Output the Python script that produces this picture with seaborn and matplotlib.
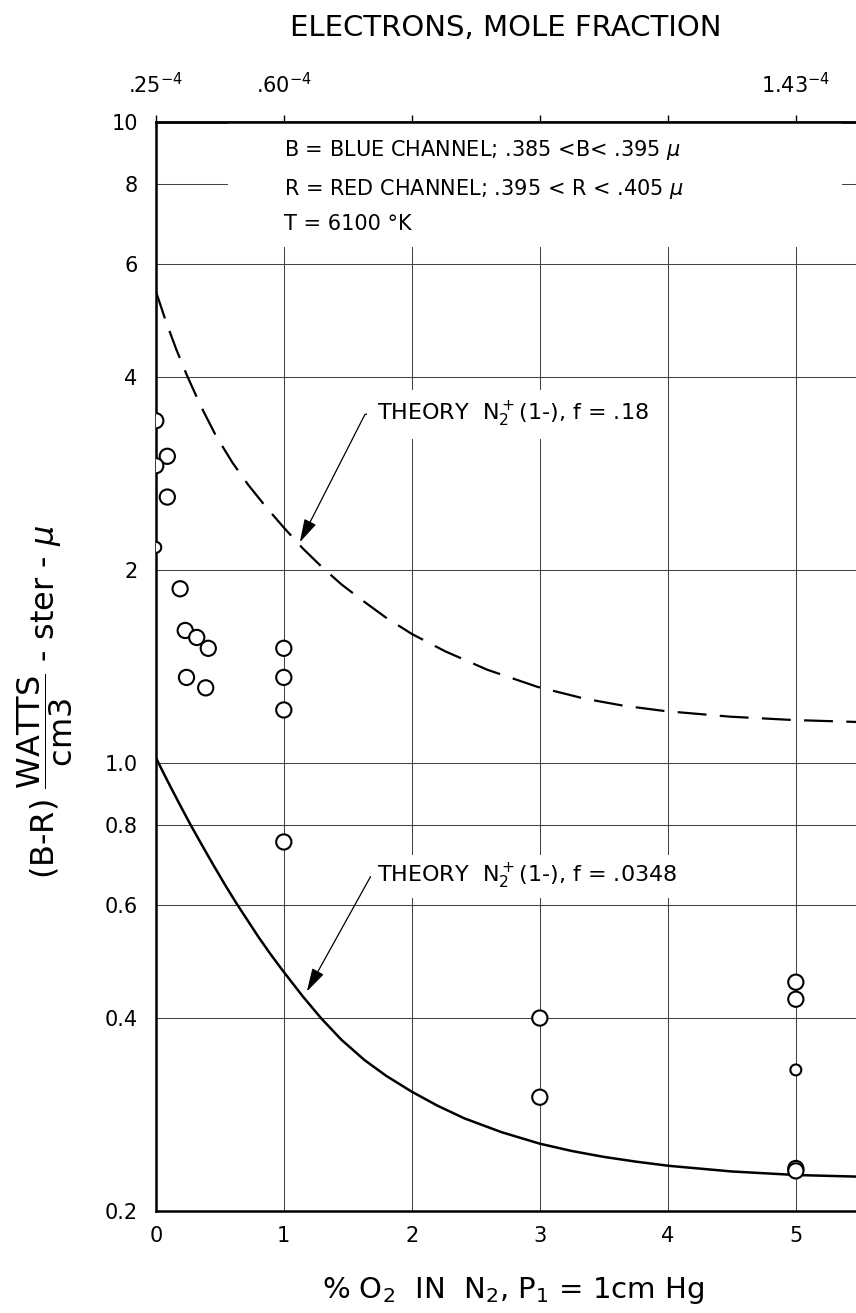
import matplotlib
matplotlib.use("Agg")
import matplotlib.pyplot as plt
from matplotlib.patches import Rectangle
import pandas as pd
import seaborn as sns

# measured (B-R) radiance vs % O2
o2_pct = [0, 0.09, 0, 0.09, 0, 0.19, 0.23, 0.32, 0.41, 0.24, 0.39,
          1, 1, 1, 1, 3, 3, 5, 5, 5, 5, 5]
b_minus_r = [3.42, 3.01, 2.91, 2.60, 2.17, 1.87, 1.61, 1.57, 1.51, 1.36, 1.31,
             1.51, 1.36, 1.21, 0.753, 0.40, 0.301, 0.455, 0.428, 0.332, 0.233, 0.231]
marker_kind = ["big", "big", "big", "big", "small", "big", "big", "big", "big", "big", "big",
               "big", "big", "big", "big", "big", "big", "big", "big", "small", "big", "big"]

# theory curves
theory_18_x = [0, 0.08, 0.16, 0.24, 0.35, 0.47, 0.6, 0.72, 0.86, 1.0, 1.15, 1.3, 1.45, 1.62,
               1.8, 2.0, 2.26, 2.59, 2.98, 3.35, 3.65, 3.98, 4.49, 4.98, 5.47]
theory_18_y = [5.45, 4.88, 4.42, 4.04, 3.61, 3.24, 2.94, 2.72, 2.51, 2.33, 2.16, 2.02, 1.90, 1.79,
               1.685, 1.59, 1.494, 1.398, 1.315, 1.26, 1.229, 1.205, 1.181, 1.167, 1.159]
theory_0348_x = [0, 0.06, 0.12, 0.2, 0.27, 0.36, 0.45, 0.54, 0.63, 0.72, 0.8, 0.9, 1.0, 1.15,
                 1.29, 1.45, 1.63, 1.8, 2.0, 2.2, 2.41, 2.7, 3.0, 3.25, 3.5, 3.75, 4.01, 4.5,
                 5.0, 5.47]
theory_0348_y = [1.02, 0.965, 0.914, 0.852, 0.802, 0.745, 0.693, 0.646, 0.604, 0.567, 0.536, 0.502,
                 0.472, 0.432, 0.400, 0.370, 0.344, 0.325, 0.307, 0.292, 0.279, 0.2655, 0.2547,
                 0.2481, 0.2429, 0.2388, 0.2352, 0.2305, 0.2276, 0.2263]

y_ticks = [0.2, 0.4, 0.6, 0.8, 1.0, 2, 4, 6, 8, 10]
y_tick_labels = ["0.2", "0.4", "0.6", "0.8", "1.0", "2", "4", "6", "8", "10"]
x_ticks = [0, 1, 2, 3, 4, 5]
x_tick_labels = ["0", "1", "2", "3", "4", "5"]
top_tick_labels = [".25$^{-4}$", ".60$^{-4}$", "", "", "", "1.43$^{-4}$"]

points = pd.DataFrame({"o2": o2_pct, "br": b_minus_r, "kind": marker_kind})

sns.set_style("white")
plt.rcParams["font.family"] = ["DejaVu Sans"]
plt.rcParams["mathtext.fontset"] = "dejavusans"
for key in ["text.color", "axes.labelcolor", "xtick.color", "ytick.color"]:
    plt.rcParams[key] = "black"

fig = plt.figure(figsize=(8.56, 13.13), dpi=100)
ax = fig.add_axes([0.182, 0.0777, 0.818, 0.8293])
ax.set_yscale("log")

ax.grid(True, which="major", color="#444444", lw=0.75)
ax.set_axisbelow(True)

sns.lineplot(x=theory_18_x, y=theory_18_y, ax=ax, color="black", lw=1.6, sort=False)
ax.lines[-1].set_dashes((13, 6))
sns.lineplot(x=theory_0348_x, y=theory_0348_y, ax=ax, color="black", lw=1.8, sort=False)

sns.scatterplot(data=points, x="o2", y="br", size="kind", sizes={"big": 120, "small": 62},
                facecolor="white", edgecolor="black", linewidth=1.5, legend=False, ax=ax, zorder=3)

ax.set_xlim(0, 5.47)
ax.set_ylim(0.2, 10)
ax.set_yticks(y_ticks, labels=y_tick_labels, fontsize=15)
ax.yaxis.set_minor_locator(matplotlib.ticker.NullLocator())
ax.set_xticks(x_ticks, labels=x_tick_labels, fontsize=15)
ax.tick_params(axis="both", length=0)
ax.tick_params(axis="y", pad=13)
ax.tick_params(axis="x", pad=11)
ax.set_xlabel("")
ax.set_ylabel("")

for side in ["left", "bottom", "top"]:
    ax.spines[side].set_linewidth(1.8)
    ax.spines[side].set_color("black")
ax.spines["right"].set_visible(False)

top = ax.secondary_xaxis("top")
top.set_xticks(x_ticks, labels=top_tick_labels, fontsize=15)
top.tick_params(direction="inout", length=10, width=1.0, pad=13)
top.spines["top"].set_linewidth(1.8)

# white-out behind the channel notes
ax.add_patch(Rectangle((0.103, 0.885), 0.877, 0.115, transform=ax.transAxes,
                       facecolor="white", edgecolor="none", zorder=2.3))
ax.text(1.0, 7.95,
        "B = BLUE CHANNEL; .385 <B< .395 $\\mu$\n"
        "R = RED CHANNEL; .395 < R < .405 $\\mu$\n"
        "T = 6100 °K",
        fontsize=15, va="center", ha="left", linespacing=1.85, zorder=2.4)

arrow_style = dict(arrowstyle="-|>,head_length=0.9,head_width=0.25", color="black", lw=0.9,
                   relpos=(0, 0.5), shrinkA=0, shrinkB=0)
ax.annotate("THEORY  N$_2^+$(1-), f = .18", xy=(1.125, 2.21), xytext=(1.73, 3.5),
            fontsize=16, va="center", ha="left",
            bbox=dict(boxstyle="square,pad=0.45", facecolor="white", edgecolor="none"),
            arrowprops=dict(**arrow_style, connectionstyle="angle,angleA=0,angleB=63,rad=0"))
ax.annotate("THEORY  N$_2^+$(1-), f = .0348", xy=(1.18, 0.44), xytext=(1.73, 0.665),
            fontsize=16, va="center", ha="left",
            bbox=dict(boxstyle="square,pad=0.3", facecolor="white", edgecolor="none"),
            arrowprops=dict(**arrow_style, connectionstyle="angle,angleA=0,angleB=61,rad=0"))

fig.text(506 / 856, 1 - 28 / 1313, "ELECTRONS, MOLE FRACTION", fontsize=21, ha="center", va="center")
fig.text(513 / 856, 1 - 1290 / 1313, "% O$_2$  IN  N$_2$, P$_1$ = 1cm Hg", fontsize=21,
         ha="center", va="center")
fig.text(45 / 856, 1 - 702 / 1313, r"(B-R) $\dfrac{\mathrm{WATTS}}{\mathrm{cm3}}$ - ster - $\mu$",
         fontsize=23, rotation=90, ha="center", va="center")

fig.savefig("out.png", dpi=100)
